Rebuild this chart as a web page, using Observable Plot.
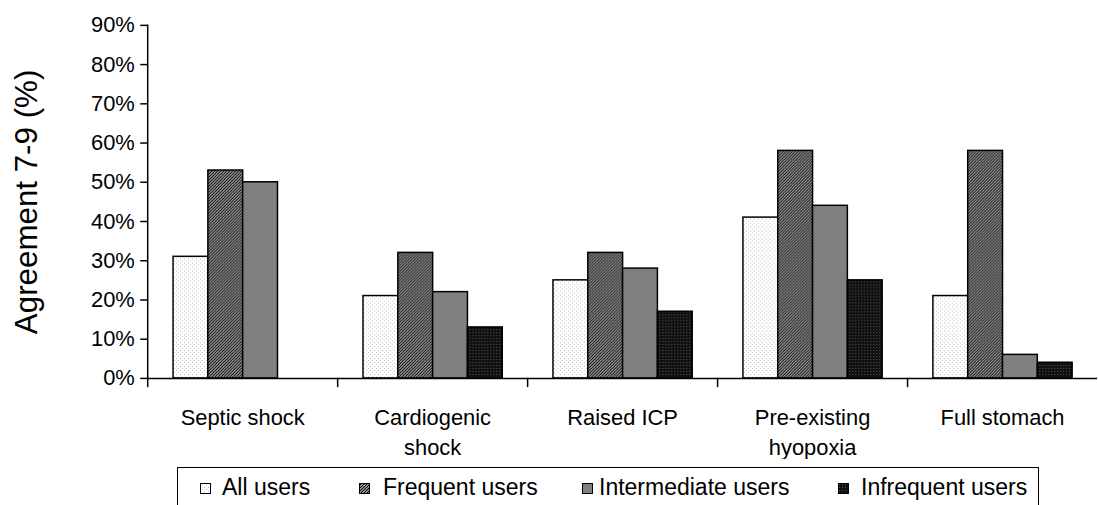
<!DOCTYPE html>
<html><head><meta charset="utf-8">
<script src="https://cdn.jsdelivr.net/npm/d3@7"></script>
<script src="https://cdn.jsdelivr.net/npm/@observablehq/plot@0.6"></script>
<style>
html,body{margin:0;padding:0;background:#fff;overflow:hidden;width:1098px;height:505px;font-family:"Liberation Sans",Arial,sans-serif}
#chart{position:absolute;left:0;top:0}
#legend{position:absolute;left:177px;top:467px;width:862px;height:60px;border:1px solid #000;box-sizing:border-box}
.sw{position:absolute;top:15px}
.lt{position:absolute;top:4px;font-size:23px;line-height:30px;color:#000;white-space:nowrap}
[aria-label="y-axis label"]{font-size:31.5px}
</style></head><body>
<svg width="0" height="0" style="position:absolute">
<defs>
<pattern id="pAll" patternUnits="userSpaceOnUse" width="4" height="4">
<rect width="4" height="4" fill="#fff"/><rect x="0" y="0" width="1" height="1" fill="#bbb"/><rect x="2" y="2" width="1" height="1" fill="#ccc"/>
</pattern>
<pattern id="pFreq" patternUnits="userSpaceOnUse" width="3" height="3">
<rect width="3" height="3" fill="#fff"/><path d="M-1,1 l2,-2 M0,3 l3,-3 M2,4 l2,-2" stroke="#000" stroke-width="1.3"/>
</pattern>
<pattern id="pInf" patternUnits="userSpaceOnUse" width="3" height="3">
<rect width="3" height="3" fill="#111"/><rect x="1" y="1" width="1" height="1" fill="#555"/>
</pattern>
</defs></svg>
<div id="chart"></div>
<div id="legend"></div>
<script>
const categories = ["Septic shock", "Cardiogenic\nshock", "Raised ICP", "Pre-existing\nhyopoxia", "Full stomach"];
const series = ["All users", "Frequent users", "Intermediate users", "Infrequent users"];
const allUsers = [31, 21, 25, 41, 21];
const frequentUsers = [53, 32, 32, 58, 58];
const intermediateUsers = [50, 22, 28, 44, 6];
const infrequentUsers = [0, 13, 17, 25, 4];
const yTicks = [0, 10, 20, 30, 40, 50, 60, 70, 80, 90];
const yLabel = "Agreement 7-9 (%)";
const seriesFills = ["url(#pAll)", "url(#pFreq)", "#808080", "url(#pInf)"];

const seriesValues = [allUsers, frequentUsers, intermediateUsers, infrequentUsers];
const data = categories.flatMap((c, i) => series.map((s, j) => ({category: c, series: s, value: seriesValues[j][i]})));

const W = 1104, H = 462, plotBottom = 380, plotTop = 25;
const chart = Plot.plot({
  width: W, height: H,
  marginLeft: 147, marginRight: 0, marginTop: plotTop, marginBottom: H - plotBottom,
  style: {fontFamily: "'Liberation Sans', Arial, sans-serif", color: "#000", background: "transparent"},
  fx: {domain: categories, padding: 0},
  x: {domain: series, paddingInner: 0, paddingOuter: 0.72, axis: null},
  y: {domain: [0, 90]},
  color: {type: "ordinal", domain: series, range: seriesFills},
  marks: [
    Plot.barY(data.filter(d => d.value > 0), {fx: "category", x: "series", y: "value", fill: "series", stroke: "#000", strokeWidth: 1.5}),
    Plot.ruleY([0], {stroke: "#000", strokeWidth: 1.5}),
    Plot.frame({anchor: "left", insetTop: plotBottom - plotTop, insetBottom: -8, stroke: "#000", strokeWidth: 1.5}),
    Plot.frame({anchor: "left", facet: "super", stroke: "#000", strokeWidth: 1.5}),
    Plot.axisY({ticks: yTicks, tickFormat: d => d + "%", tickSize: 7, tickPadding: 6, fontSize: 22, strokeWidth: 1.5,
      label: yLabel, labelAnchor: "center", labelOffset: 134, labelArrow: false}),
    Plot.axisFx({anchor: "bottom", tickSize: 0, tickPadding: 26, fontSize: 22, lineHeight: 1.36, label: null})
  ]
});
document.getElementById("chart").appendChild(chart);

const swatchLeft = [22, 181, 404, 660];
const textLeft = [44, 205, 421, 683];
const legend = d3.select("#legend");
series.forEach((s, j) => {
  const sw = legend.append("svg").attr("class", "sw").style("left", swatchLeft[j] + "px").attr("width", 11).attr("height", 11);
  sw.append("rect").attr("x", 0.5).attr("y", 0.5).attr("width", 10).attr("height", 10).attr("fill", seriesFills[j]).attr("stroke", "#000");
  legend.append("div").attr("class", "lt").style("left", textLeft[j] + "px").text(s);
});
</script>
</body></html>
